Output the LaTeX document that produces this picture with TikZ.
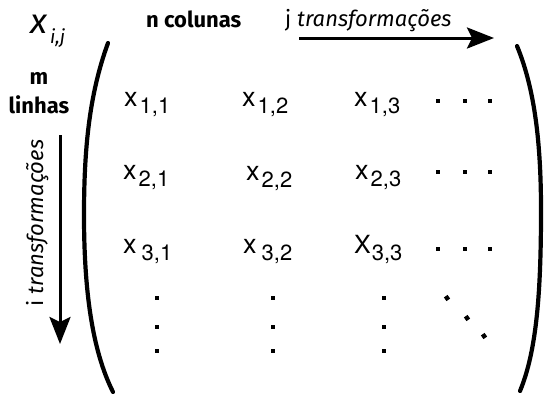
\documentclass[tikz,border=0pt]{standalone}
\usepackage{fontspec}
\setmainfont{TeX Gyre Heros}
\newfontfamily\fira{Fira Sans}
\usetikzlibrary{arrows.meta}
\newcommand\mxsub[1]{\raisebox{-7pt}{\fontsize{22}{22}\selectfont #1}}
\newcommand\mxent[2]{\fontsize{27}{27}\selectfont x\hspace{2pt}\mxsub{#1,#2}}
\tikzset{
  ent/.style={anchor=base west, inner sep=0pt},
  lbl/.style={inner sep=0pt, font=\fira\bfseries\fontsize{22}{22}\selectfont},
  tlbl/.style={inner sep=0pt, font=\fira\fontsize{22}{22}\selectfont},
  paren/.style={line width=4.2pt, line cap=round},
  bigarrow/.style={line width=3pt, -{Stealth[length=27pt,width=21pt,inset=5pt]}},
  sq/.style={fill=black, minimum size=4.5pt, inner sep=0pt},
}
\begin{document}
\begin{tikzpicture}[x=1pt,y=-1pt]
\useasboundingbox (0,0) rectangle (545,394);
% title x_{i,j}
\node[anchor=base west, inner sep=0pt] (xij) at (30,33) {\fira\itshape\fontsize{35}{35}\selectfont x\hspace{3pt}\raisebox{-10pt}{\fontsize{19}{19}\selectfont i,j}};
% labels
\node[lbl, anchor=base west] (ncol) at (146,27) {n colunas};
\node[tlbl, anchor=base west] (jtr) at (285,26) {j \textit{transformações}};
\node[lbl, anchor=base] (m) at (39,84) {m};
\node[lbl, anchor=base] (lin) at (39,113) {linhas};
\node[tlbl, rotate=90, anchor=base] (itr) at (43,223) {i \textit{transformações}};
% arrows
\coordinate (ha) at (299,38);
\coordinate (hb) at (494,38);
\coordinate (va) at (60,135);
\coordinate (vb) at (60,344);
\draw[bigarrow] (ha) -- (hb);
\draw[bigarrow] (va) -- (vb);
% parentheses
\draw[paren] (108,43) .. controls (89,95) and (84,150) .. (84,215) .. controls (84,290) and (92,350) .. (113,392);
\draw[paren] (517,46) .. controls (533,85) and (541,135) .. (541,210) .. controls (541,290) and (537,350) .. (520,391);
% entries
\node[ent] (e11) at (124,106) {\mxent{1}{1}};
\node[ent] (e12) at (242,106) {\mxent{1}{2}};
\node[ent] (e13) at (354,106) {\mxent{1}{3}};
\node[ent] (e21) at (123,179) {\mxent{2}{1}};
\node[ent] (e22) at (246,180) {\mxent{2}{2}};
\node[ent] (e23) at (355,179) {\mxent{2}{3}};
\node[ent] (e31) at (123,253) {\fontsize{27}{27}\selectfont x\hspace{5pt}\mxsub{3,1}};
\node[ent] (e32) at (243,253) {\fontsize{27}{27}\selectfont x\hspace{5pt}\mxsub{3,2}};
\node[ent] (e33) at (354,253) {\fontsize{25}{25}\selectfont X\hspace{1pt}\mxsub{3,3}};
% horizontal dots
\foreach \y [count=\r] in {101,172,249}{
  \foreach \x [count=\c] in {438,465,490}{
    \node[sq] (h\r\c) at (\x,\y) {};
  }
}
% vertical dots
\foreach \x [count=\c] in {157,273,384}{
  \foreach \y [count=\r] in {298,327,351}{
    \node[sq] (v\c\r) at (\x,\y) {};
  }
}
% diagonal dots
\node[sq, rotate=35] (d1) at (447,298) {};
\node[sq, rotate=35] (d2) at (467,318) {};
\node[sq, rotate=35] (d3) at (484,336) {};
\end{tikzpicture}
\end{document}
